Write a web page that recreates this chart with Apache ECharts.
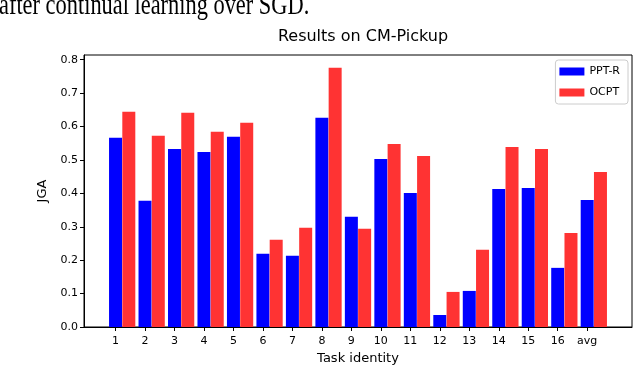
<!DOCTYPE html>
<html>
<head>
<meta charset="utf-8">
<script src="https://cdn.jsdelivr.net/npm/echarts@6/dist/echarts.min.js"></script>
<style>
  html, body { margin: 0; padding: 0; background: #fff; }
  #chart { width: 634px; height: 366px; }
</style>
</head>
<body>
<div id="chart"></div>
<script>
// task labels on the x axis
var taskLabels = ['1', '2', '3', '4', '5', '6', '7', '8', '9', '10', '11', '12', '13', '14', '15', '16', 'avg'];
// JGA per task
var pptR = [0.566, 0.378, 0.533, 0.524, 0.569, 0.219, 0.213, 0.626, 0.330, 0.503, 0.401, 0.036, 0.108, 0.413, 0.416, 0.177, 0.380];
var ocpt = [0.644, 0.572, 0.641, 0.584, 0.611, 0.261, 0.297, 0.776, 0.294, 0.548, 0.512, 0.105, 0.231, 0.539, 0.533, 0.281, 0.464];
var yTicks = [0, 0.1, 0.2, 0.3, 0.4, 0.5, 0.6, 0.7, 0.8];

var barStep = 0.45; // red bar sits one bar-width right of the blue one (matplotlib style)
var xTicks = taskLabels.map(function (d, i) { return i; });

var chart = echarts.init(document.getElementById('chart'));

var option = {
  animation: false,
  textStyle: { fontFamily: 'DejaVu Sans' },
  title: {
    text: 'Results on CM-Pickup',
    left: 358,
    textAlign: 'center',
    top: 24,
    textStyle: { fontSize: 16, fontWeight: 'normal', color: '#000', fontFamily: 'DejaVu Sans' }
  },
  // leftover caption line from the page above the figure, cut at the top
  graphic: [{
    type: 'text',
    x: -1,
    y: 21,
    scaleY: 1.35,
    style: {
      text: 'after continual learning over SGD.',
      font: '22.4px "Liberation Serif"',
      fill: '#000',
      textVerticalAlign: 'bottom'
    }
  }],
  legend: {
    orient: 'vertical',
    right: 6,
    top: 60,
    icon: 'rect',
    itemWidth: 25,
    itemHeight: 8,
    itemGap: 10,
    padding: [6, 8, 6, 4],
    borderColor: '#ccc',
    borderWidth: 1,
    borderRadius: 3,
    textStyle: { fontSize: 11, color: '#000', fontFamily: 'DejaVu Sans' },
    data: ['PPT-R', 'OCPT']
  },
  grid: {
    left: 84,
    right: 2,
    top: 55,
    bottom: 39,
    outerBoundsMode: 'none',
    show: true,
    borderColor: '#000',
    borderWidth: 1
  },
  xAxis: {
    type: 'value',
    min: -1.07,
    max: 17.52,
    name: 'Task identity',
    nameLocation: 'middle',
    nameGap: 25,
    nameTextStyle: { fontSize: 13, color: '#000' },
    axisLine: { show: true, onZero: false, lineStyle: { color: '#000' } },
    axisTick: { show: true, length: 4, customValues: xTicks, lineStyle: { color: '#000' } },
    axisLabel: {
      customValues: xTicks,
      color: '#000',
      fontSize: 11,
      margin: 9,
      formatter: function (v) { return taskLabels[Math.round(v)]; }
    },
    splitLine: { show: false }
  },
  yAxis: {
    type: 'value',
    min: 0,
    max: 0.814,
    name: 'JGA',
    nameLocation: 'middle',
    nameGap: 35,
    nameTextStyle: { fontSize: 13, color: '#000' },
    axisLine: { show: true, onZero: false, lineStyle: { color: '#000' } },
    axisTick: { show: true, length: 4, customValues: yTicks, lineStyle: { color: '#000' } },
    axisLabel: {
      customValues: yTicks,
      color: '#000',
      fontSize: 11,
      margin: 6,
      formatter: function (v) { return v.toFixed(1); }
    },
    splitLine: { show: false }
  },
  series: [
    {
      name: 'PPT-R',
      type: 'bar',
      barWidth: 13,
      barGap: '-100%',
      itemStyle: { color: '#0000ff' },
      data: pptR.map(function (v, i) { return [i, v]; })
    },
    {
      name: 'OCPT',
      type: 'bar',
      barWidth: 13,
      barGap: '-100%',
      itemStyle: { color: '#ff3333' },
      data: ocpt.map(function (v, i) { return [i + barStep, v]; })
    }
  ]
};

chart.setOption(option);
</script>
</body>
</html>
